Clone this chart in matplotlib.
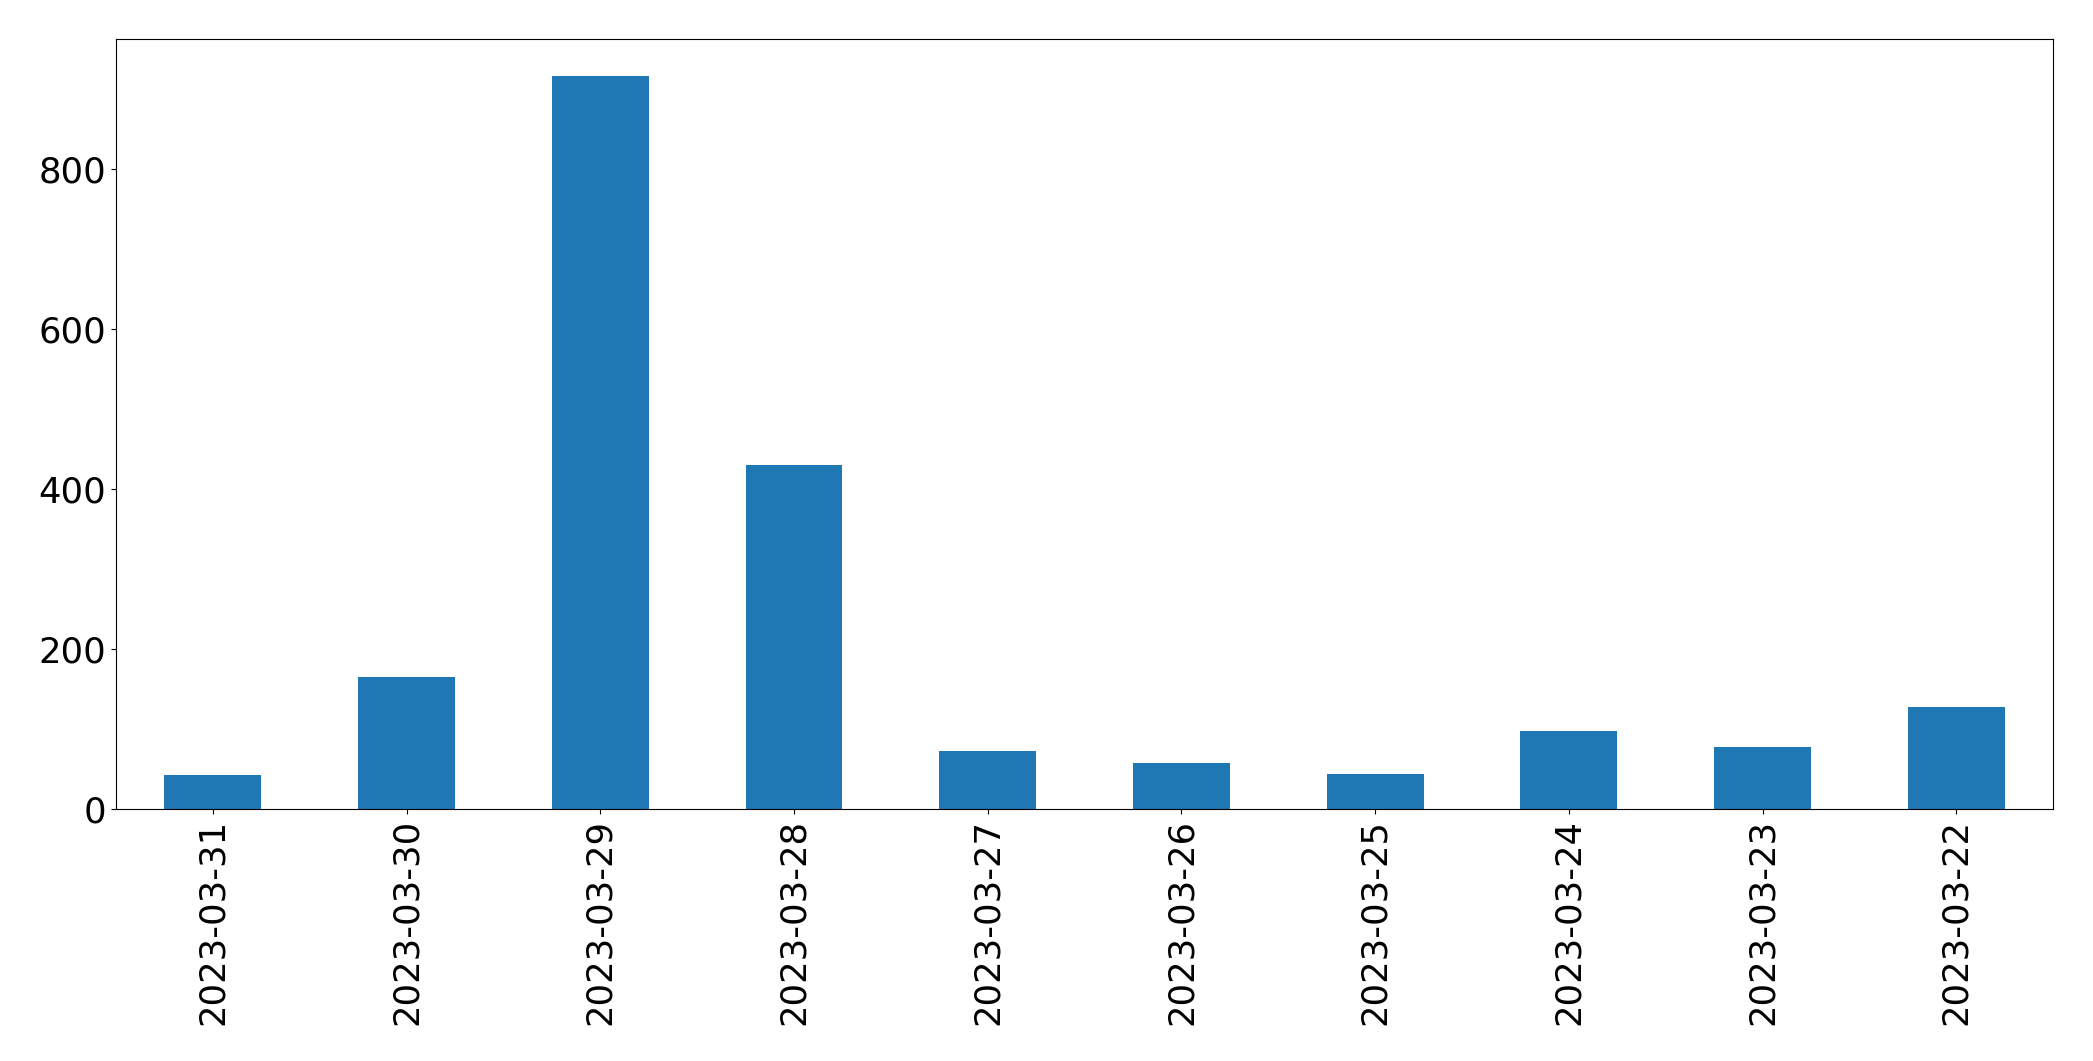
import matplotlib
matplotlib.use("Agg")
import matplotlib.pyplot as plt
import numpy as np

dates = ["2023-03-31", "2023-03-30", "2023-03-29", "2023-03-28", "2023-03-27",
         "2023-03-26", "2023-03-25", "2023-03-24", "2023-03-23", "2023-03-22"]
counts = [42, 165, 916, 430, 72, 58, 44, 97, 77, 127]

fig, ax = plt.subplots(figsize=(20.93, 10.61), dpi=100)
fig.subplots_adjust(left=0.0554, right=0.981, top=0.963, bottom=0.2375)

xs = np.arange(len(dates))
ax.bar(xs, counts, width=0.5, color="#1f77b4")
ax.set_xlim(-0.5, len(dates) - 0.5)
ax.set_xticks(xs)
ax.set_xticklabels(dates, rotation=90)
ax.tick_params(axis="both", labelsize=25.5)

fig.savefig("out.png", dpi=100)
